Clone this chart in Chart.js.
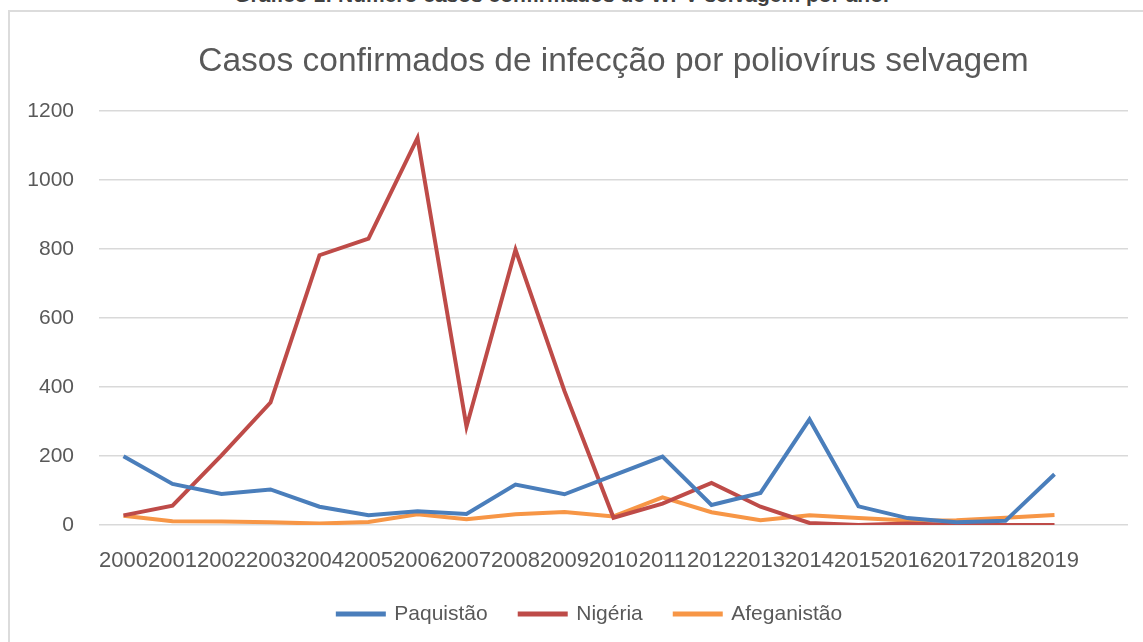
<!DOCTYPE html>
<html><head><meta charset="utf-8">
<script src="https://cdn.jsdelivr.net/npm/chart.js@4.4.0/dist/chart.umd.min.js"></script>
<style>
html,body{margin:0;padding:0;background:#fff;overflow:hidden;width:1143px;height:642px;}
#frame{position:absolute;left:8px;top:10px;width:1200px;height:700px;border:2px solid #dcdcdc;box-sizing:border-box;}
#header{position:absolute;left:-10px;width:1143px;top:-17px;text-align:center;font:bold 21px "Liberation Sans";color:#404040;white-space:nowrap;line-height:24px;}
canvas{position:absolute;left:0;top:0;}
</style></head><body>
<div id="header">Gráfico 1: Número casos confirmados de WPV selvagem por ano.</div>
<div id="frame"></div>
<canvas id="c" width="1143" height="642"></canvas>
<script>
const years = ['2000','2001','2002','2003','2004','2005','2006','2007','2008','2009','2010','2011','2012','2013','2014','2015','2016','2017','2018','2019',''];
const paquistao  = [199,119,90,103,53,28,40,32,117,89,144,198,58,93,306,54,20,8,12,147,null];
const nigeria    = [28,56,202,355,782,830,1122,285,798,388,21,62,122,53,6,0,4,0,0,0,null];
const afeganistao= [27,11,10,8,4,9,31,17,31,38,25,80,37,14,28,20,13,14,21,29,null];
const yTicks = [0,200,400,600,800,1000,1200];
const seriesNames = ['Paquistão','Nigéria','Afeganistão'];
const colors = ['#4a7ebb','#be4b48','#f79646'];

const FONT = 'Liberation Sans';
const GREY = '#595959';

function ds(label, data, color){
  return {label, data, borderColor: color, backgroundColor: color, borderWidth: 4,
          pointRadius: 0, pointHoverRadius: 0, tension: 0, fill: false, spanGaps: false};
}

const legendShift = {
  id: 'legendShift',
  afterLayout(chart) {
    const l = chart.legend;
    if (!l) return;
    l.left += 16; l.right += 16;
    if (typeof l.adjustHitBoxes === 'function') l.adjustHitBoxes();
  }
};

new Chart(document.getElementById('c'), {
  type: 'line',
  data: {
    labels: years,
    datasets: [
      ds(seriesNames[0], paquistao, colors[0]),
      ds(seriesNames[1], nigeria, colors[1]),
      ds(seriesNames[2], afeganistao, colors[2])
    ]
  },
  plugins: [legendShift],
  options: {
    responsive: false,
    devicePixelRatio: 1,
    animation: false,
    layout: {padding: {left: 20, right: 15, top: 0, bottom: 7.5}},
    plugins: {
      title: {
        display: true,
        fullSize: false,
        text: 'Casos confirmados de infecção por poliovírus selvagem',
        color: GREY,
        font: {family: FONT, size: 33.5, weight: 'normal', lineHeight: 1.2},
        padding: {top: 41.4, bottom: 29.4}
      },
      legend: {
        position: 'bottom',
        labels: {
          color: GREY,
          font: {family: FONT, size: 21},
          boxWidth: 46,
          boxHeight: 1,
          padding: 32
        }
      },
      tooltip: {enabled: false}
    },
    scales: {
      x: {
        type: 'category',
        offset: true,
        grid: {display: false, drawTicks: false},
        border: {display: false},
        ticks: {color: GREY, font: {family: FONT, size: 22}, autoSkip: false, maxRotation: 0, minRotation: 0, padding: 23},
        afterFit: (s) => { s.height = 46.5; }
      },
      y: {
        min: 0, max: 1200,
        afterBuildTicks: (s) => { s.ticks = yTicks.map(v => ({value: v})); },
        grid: {color: '#d9d9d9', lineWidth: 1.5, drawTicks: false},
        border: {display: false},
        ticks: {color: GREY, font: {family: FONT, size: 21}, padding: 25, callback: (v) => String(v)},
        afterFit: (s) => { s.width = 79; }
      }
    }
  }
});
</script>
</body></html>
